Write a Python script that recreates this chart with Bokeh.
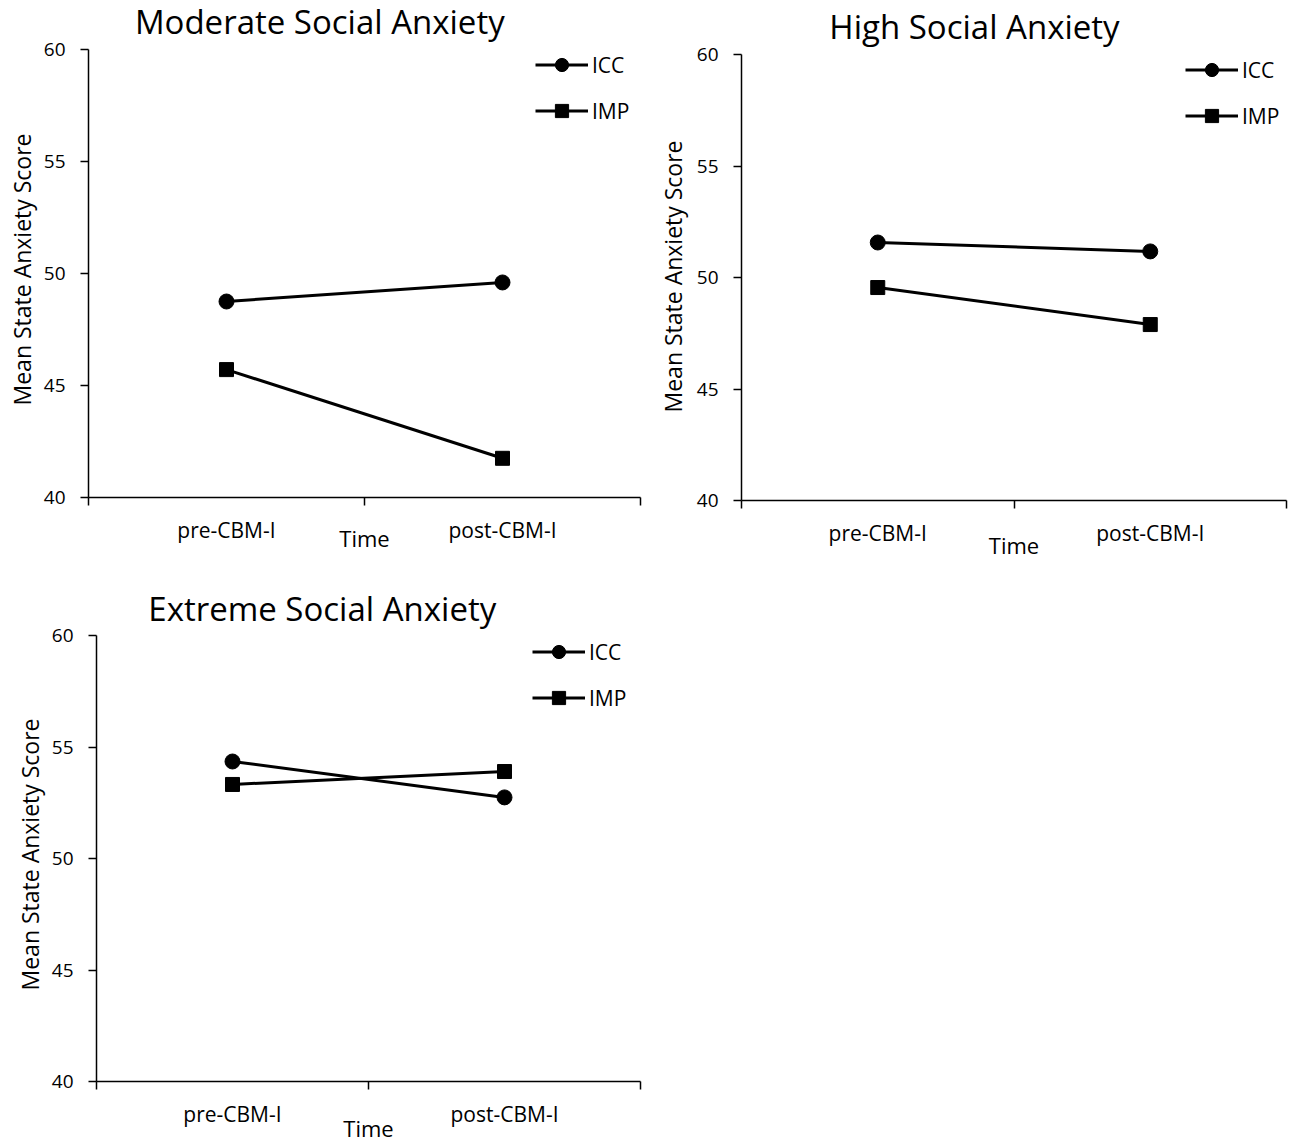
from bokeh.plotting import figure
from bokeh.models import (FixedTicker, Range1d, Legend, LegendItem, ColumnDataSource, Label, Title)
from bokeh.layouts import column, row
from bokeh.embed import file_html
from bokeh.resources import INLINE

# ---- data ----
categories = ["pre-CBM-I", "post-CBM-I"]
groups = ["ICC", "IMP"]
panel_titles = ["Moderate Social Anxiety", "High Social Anxiety", "Extreme Social Anxiety"]
moderate_icc = [48.75, 49.60]
moderate_imp = [45.71, 41.75]
high_icc = [51.57, 51.17]
high_imp = [49.55, 47.89]
extreme_icc = [54.35, 52.74]
extreme_imp = [53.32, 53.90]
y_min, y_max = 40, 60
y_ticks = [40, 45, 50, 55, 60]
y_label = "Mean State Anxiety Score"
x_label = "Time"

FONT = "Open Sans"


def make_panel(title, icc, imp, lay):
    # frame starts at the canvas top; the space above the 60 line holds the title
    ph = lay["ph"]                      # pixel height of the 40..60 axis
    top = lay["top"]                    # pixels above the 60 line
    y_end = y_max + (y_max - y_min) * top / ph
    p = figure(output_backend="svg", toolbar_location=None, title_location=None,
               frame_width=lay["fw"], frame_height=ph + top,
               min_border_left=lay["bl"], min_border_right=lay["br"],
               min_border_top=0, min_border_bottom=lay["bb"],
               x_range=Range1d(0, len(categories)), y_range=Range1d(y_min, y_end),
               background_fill_color="white", border_fill_color="white",
               outline_line_color=None)
    p.grid.visible = False

    p.add_layout(Label(x=lay["tx"], y=y_max + (y_max - y_min) * lay["tb"] / ph,
                       x_units="data", y_units="data", text=title,
                       text_align="center", text_baseline="alphabetic",
                       text_font=FONT, text_font_size="33px", text_color="black"))

    xs = [i + 0.5 for i in range(len(categories))]
    # x axis
    xa = p.xaxis[0]
    xa.ticker = FixedTicker(ticks=xs, minor_ticks=list(range(len(categories) + 1)))
    xa.major_label_overrides = {x: c for x, c in zip(xs, categories)}
    xa.major_tick_line_color = None
    xa.major_tick_out = 0
    xa.major_tick_in = 0
    xa.minor_tick_out = 8
    xa.minor_tick_in = 0
    xa.minor_tick_line_color = "black"
    xa.minor_tick_line_width = 1.5
    xa.axis_line_color = "black"
    xa.axis_line_width = 1.5
    xa.major_label_text_font = FONT
    xa.major_label_text_font_size = "21px"
    xa.major_label_text_color = "black"
    xa.major_label_standoff = 10
    xa.axis_label = x_label
    xa.axis_label_text_font = FONT
    xa.axis_label_text_font_size = "22px"
    xa.axis_label_text_font_style = "normal"
    xa.axis_label_text_color = "black"
    xa.axis_label_standoff = lay["ts"]

    ya = p.yaxis[0]
    ya.bounds = (y_min, y_max)
    ya.ticker = FixedTicker(ticks=y_ticks, minor_ticks=[])
    ya.major_tick_out = 8
    ya.major_tick_in = 0
    ya.major_tick_line_width = 1.5
    ya.axis_line_width = 1.5
    ya.axis_line_color = "black"
    ya.major_tick_line_color = "black"
    ya.minor_tick_line_color = None
    ya.major_label_text_font = FONT
    ya.major_label_text_font_size = "19px"
    ya.major_label_text_color = "black"
    ya.major_label_standoff = 15
    ya.axis_label = None
    ya.axis_label_standoff = 0

    # y-axis title, centred on the 40..60 span (not on the taller frame)
    p.add_layout(Title(text=y_label, align="left", offset=lay["yo"],
                       vertical_align="bottom", standoff=lay["ys"],
                       text_font=FONT, text_font_size="23px",
                       text_font_style="normal", text_color="black"), "left")

    items = []
    for name, vals, marker, size in ((groups[0], icc, "circle", 15), (groups[1], imp, "square", 14)):
        src = ColumnDataSource(dict(x=xs, y=vals))
        ln = p.line("x", "y", source=src, line_color="black", line_width=3)
        sc = p.scatter("x", "y", source=src, marker=marker, size=size,
                       fill_color="black", line_color="black")
        items.append(LegendItem(label=name, renderers=[ln, sc]))
    leg = Legend(items=items, location=lay["leg"], orientation="vertical",
                 glyph_width=53, glyph_height=33, label_standoff=4,
                 spacing=13, padding=0, margin=0,
                 border_line_color=None, background_fill_alpha=0,
                 label_text_font=FONT, label_text_font_size="21px",
                 label_text_color="black")
    p.add_layout(leg)
    return p


lay1 = dict(fw=552, ph=448, top=49, bl=88, br=10, bb=73, tx=0.838, tb=28, ts=-24,
            yo=92, ys=6, leg=(447, 370))
lay2 = dict(fw=545, ph=446, top=54, bl=91, br=11, bb=70, tx=0.855, tb=28, ts=-20,
            yo=88, ys=9, leg=(444, 368))
lay3 = dict(fw=544, ph=446, top=65, bl=96, br=10, bb=60, tx=0.830, tb=27, ts=-18,
            yo=91, ys=6, leg=(436, 367))

p1 = make_panel(panel_titles[0], moderate_icc, moderate_imp, lay1)
p2 = make_panel(panel_titles[1], high_icc, high_imp, lay2)
p3 = make_panel(panel_titles[2], extreme_icc, extreme_imp, lay3)

layout = column(row(p1, p2), p3)
open("out.html", "w").write(file_html(layout, INLINE))
